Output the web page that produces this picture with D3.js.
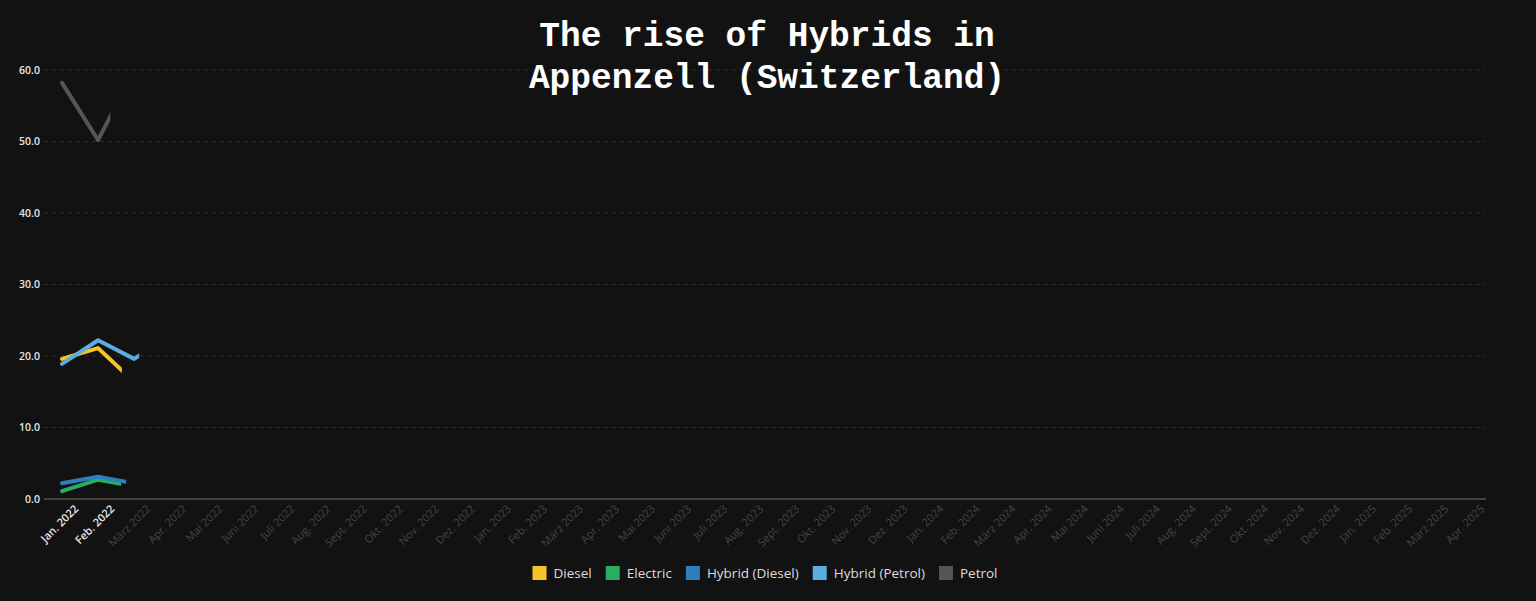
<!DOCTYPE html>
<html>
<head>
<meta charset="utf-8">
<script src="https://cdn.jsdelivr.net/npm/d3@7"></script>
<style>
  body { margin: 0; background: #121212; }
  svg { display: block; }
</style>
</head>
<body>
<script>
// month labels shown on the x axis
var months = ["Jan. 2022","Feb. 2022","März 2022","Apr. 2022","Mai 2022","Juni 2022","Juli 2022",
  "Aug. 2022","Sept. 2022","Okt. 2022","Nov. 2022","Dez. 2022","Jan. 2023","Feb. 2023",
  "März 2023","Apr. 2023","Mai 2023","Juni 2023","Juli 2023","Aug. 2023","Sept. 2023",
  "Okt. 2023","Nov. 2023","Dez. 2023","Jan. 2024","Feb. 2024","März 2024","Apr. 2024",
  "Mai 2024","Juni 2024","Juli 2024","Aug. 2024","Sept. 2024","Okt. 2024","Nov. 2024",
  "Dez. 2024","Jan. 2025","Feb. 2025","März 2025","Apr. 2025"];

var seriesNames = ["Diesel","Electric","Hybrid (Diesel)","Hybrid (Petrol)","Petrol"];
var seriesColors = ["#f6c329","#27ae60","#2e7fbd","#5dade2","#555555"];

// share in % per month (only the months drawn so far)
var diesel       = [19.6, 21.1, 16.4];
var electric     = [1.1, 2.7, 1.8];
var hybridDiesel = [2.2, 3.1, 2.2];
var hybridPetrol = [18.9, 22.2, 19.6, 22.8];
var petrol       = [58.2, 50.2, 59.9];

// how far each line has been drawn (in months from Jan. 2022)
var reveal = [1.66, 1.64, 1.78, 2.14, 1.34];

// number of months highlighted on the axis
var currentMonths = 2;

var yTicks = [0, 10, 20, 30, 40, 50, 60];

var allSeries = [diesel, electric, hybridDiesel, hybridPetrol, petrol];

var w = 1536, h = 601;
var mLeft = 44, mRight = 1486, mTop = 70, mBottom = 499;

var svg = d3.select("body").append("svg")
    .attr("width", w)
    .attr("height", h);

var x = d3.scalePoint()
    .domain(months)
    .range([mLeft, mRight])
    .padding(0.5);

var y = d3.scaleLinear()
    .domain([0, 60])
    .range([mBottom, mTop]);

// grid
svg.selectAll(".grid")
    .data(yTicks.slice(1))
    .enter().append("line")
    .attr("x1", mLeft).attr("x2", mRight)
    .attr("y1", function(d) { return y(d); })
    .attr("y2", function(d) { return y(d); })
    .attr("stroke", "#2c2c2c")
    .attr("stroke-dasharray", "4,4");

// y axis
var yAxis = svg.append("g")
    .attr("transform", "translate(" + mLeft + ",0)")
    .call(d3.axisLeft(y).tickValues(yTicks).tickFormat(d3.format(".1f")).tickSize(0).tickPadding(4));
yAxis.select(".domain").remove();
yAxis.selectAll("text")
    .attr("fill", "#e6e6e6")
    .style("font-family", "'Open Sans', sans-serif")
    .style("font-weight", "600")
    .style("font-size", "10.5px");

// x axis
var xAxis = svg.append("g")
    .attr("transform", "translate(0," + mBottom + ")")
    .call(d3.axisBottom(x).tickSize(0).tickPadding(6));
xAxis.select(".domain")
    .attr("d", "M" + mLeft + ",0H" + mRight)
    .attr("stroke", "#555555")
    .attr("stroke-width", 1.5);
xAxis.selectAll("text")
    .attr("text-anchor", "end")
    .attr("dx", "0.4em")
    .attr("dy", "1.2em")
    .attr("transform", "rotate(-45)")
    .attr("fill", function(d, i) { return i < currentMonths ? "#e6e6e6" : "#454545"; })
    .style("font-family", "'Open Sans', sans-serif")
    .style("font-weight", function(d, i) { return i < currentMonths ? "600" : "400"; })
    .style("font-size", "11px");

// lines
var line = d3.line()
    .x(function(d, i) { return x(months[i]); })
    .y(function(d) { return y(d); });

var defs = svg.append("defs");
allSeries.forEach(function(s, k) {
  defs.append("clipPath")
      .attr("id", "clip" + k)
    .append("rect")
      .attr("x", 0)
      .attr("y", 0)
      .attr("width", x(months[0]) + reveal[k] * x.step())
      .attr("height", h);
});

[4, 0, 3, 1, 2].forEach(function(k) {
  svg.append("path")
      .datum(allSeries[k])
      .attr("d", line)
      .attr("clip-path", "url(#clip" + k + ")")
      .attr("fill", "none")
      .attr("stroke", seriesColors[k])
      .attr("stroke-width", 4)
      .attr("stroke-linejoin", "round")
      .attr("stroke-linecap", "round");
});

// title
var title = svg.append("text")
    .attr("x", 767)
    .attr("text-anchor", "middle")
    .attr("fill", "#ffffff")
    .style("font-family", "'Liberation Mono', 'Courier New', monospace")
    .style("font-weight", "bold")
    .style("font-size", "34.5px");
title.append("tspan").attr("x", 767).attr("y", 46).text("The rise of Hybrids in");
title.append("tspan").attr("x", 767).attr("y", 88).text("Appenzell (Switzerland)");

// legend
var legend = svg.append("g");
var items = legend.selectAll("g")
    .data(seriesNames)
    .enter().append("g");
items.append("rect")
    .attr("width", 14).attr("height", 14)
    .attr("y", -7)
    .attr("fill", function(d, i) { return seriesColors[i]; });
items.append("text")
    .attr("x", 21)
    .attr("dy", "0.35em")
    .attr("fill", "#dddddd")
    .style("font-family", "'Open Sans', sans-serif")
    .style("font-size", "13.5px")
    .text(function(d) { return d; });

var pos = 0;
items.each(function() {
  var g = d3.select(this);
  g.attr("transform", "translate(" + pos + ",0)");
  pos += 21 + g.select("text").node().getComputedTextLength() + 14;
});
pos -= 14;
legend.attr("transform", "translate(" + (765 - pos / 2) + ",573)");
</script>
</body>
</html>
